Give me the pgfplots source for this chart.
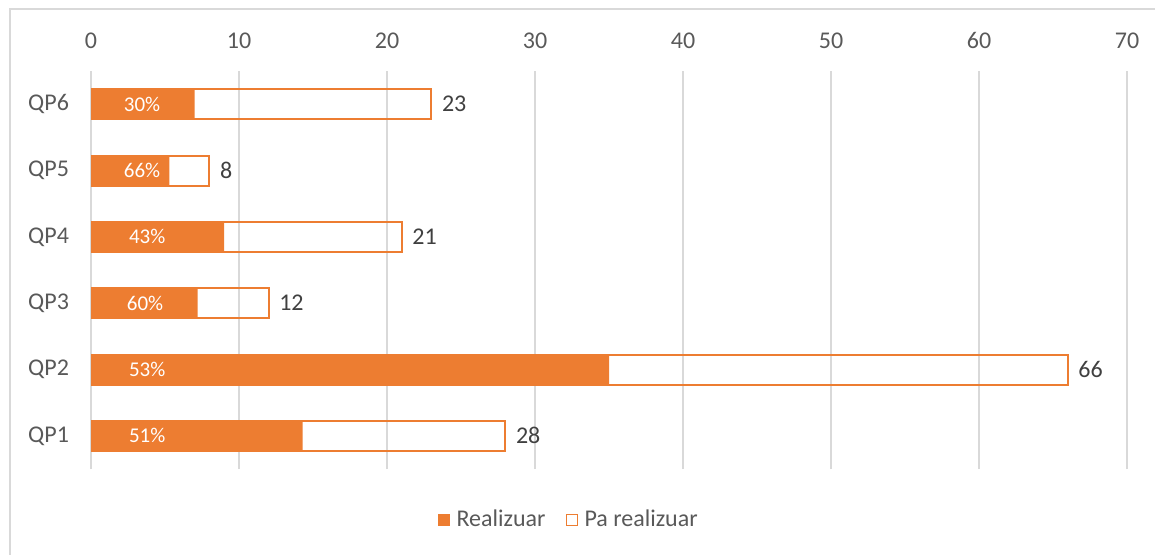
\documentclass[border=0pt]{standalone}
\usepackage{fontspec}
\setmainfont{Carlito}
\usepackage{pgfplots}
\pgfplotsset{compat=1.18}
\definecolor{orng}{HTML}{ED7D31}
\definecolor{txt}{HTML}{595959}
\definecolor{dtxt}{HTML}{404040}
\definecolor{grd}{HTML}{D9D9D9}
\begin{document}
\begin{tikzpicture}[font=\fontsize{12pt}{14pt}\selectfont]
\useasboundingbox (-45.5pt,-42.5pt) rectangle (532pt,234.5pt);
\draw[grd, line width=1pt] (-40.5pt,-50pt) -- (-40.5pt,230pt) -- (540pt,230pt);
\begin{axis}[
  scale only axis, width=518pt, height=199pt,
  xmin=0, xmax=70, ymin=0.5, ymax=6.5,
  xtick={0,10,...,70}, ytick={1,...,6},
  yticklabels={QP1,QP2,QP3,QP4,QP5,QP6},
  xticklabel pos=top,
  axis line style={draw=none},
  major tick style={draw=none},
  xmajorgrids, grid style={grd, line width=0.9pt},
  tick label style={text=txt, font=\fontsize{12pt}{14pt}\selectfont},
  xticklabel style={anchor=base, yshift=11.5pt},
  yticklabel style={xshift=-7.5pt},
  /pgf/number format/assume math mode=true,
  legend style={at={(0.462,-0.128)}, anchor=center, draw=none, fill=none,
    legend columns=2, text=txt, font=\fontsize{12pt}{14pt}\selectfont,
    /tikz/every even column/.append style={column sep=8pt}},
]
\addplot[xbar, bar width=15pt, bar shift=0pt, fill=orng, draw=none,
  legend image code/.code={\fill[orng] (0pt,-3.2pt) rectangle (6.4pt,3.2pt); \path[draw=none,fill=none] (0pt,0pt) -- (7.5pt,0pt);}]
  coordinates {(14.3,1) (35,2) (7.2,3) (9,4) (5.3,5) (7,6)};
\addlegendentry{Realizuar}
\addplot[xbar, bar width=15pt, bar shift=0pt, fill=none, draw=orng, line width=1pt,
  legend image code/.code={\draw[orng, line width=0.8pt, fill=none] (0.4pt,-2.8pt) rectangle (6pt,2.8pt); \path[draw=none,fill=none] (0pt,0pt) -- (7.5pt,0pt);},
  nodes near coords, nodes near coords style={text=dtxt, font=\fontsize{12pt}{14pt}\selectfont, xshift=1.5pt}]
  coordinates {(28,1) (66,2) (12,3) (21,4) (8,5) (23,6)};
\addlegendentry{Pa realizuar}
\addplot[forget plot, only marks, mark=none, nodes near coords, point meta=explicit symbolic,
  nodes near coords style={text=white, anchor=center, font=\fontsize{10.5pt}{12pt}\selectfont}]
  coordinates {(3.8,1) [51\%] (3.8,2) [53\%] (3.65,3) [60\%] (3.8,4) [43\%] (3.45,5) [66\%] (3.45,6) [30\%]};
\end{axis}
\end{tikzpicture}
\end{document}
